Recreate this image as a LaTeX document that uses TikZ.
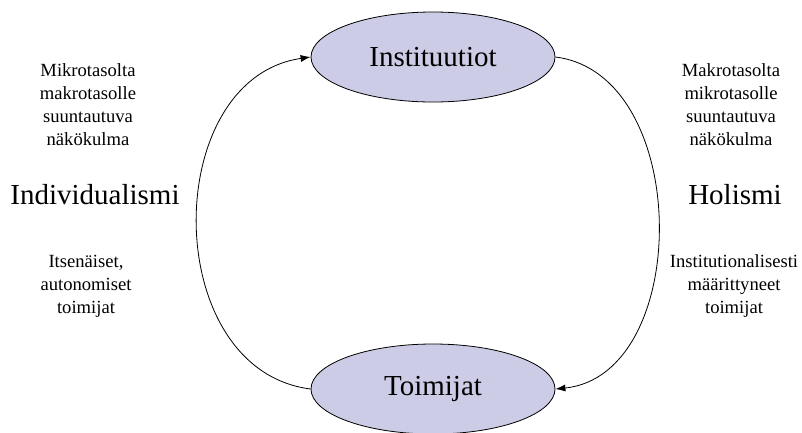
\documentclass[tikz,border=0pt]{standalone}
\usepackage{fontspec}
\setmainfont{Liberation Serif}
\usetikzlibrary{arrows.meta, shapes.geometric}

\definecolor{lilac}{RGB}{204,204,230}

\begin{document}
\begin{tikzpicture}
[x=1pt, y=-1pt,
   ->/.style={line width=0.8pt,arrows={-Latex[length=10pt,width=7pt]}},
   level/.style={shape=ellipse, draw, line width=0.8pt, fill=lilac, minimum width=244pt, minimum height=90pt, inner sep=0pt, font=\fontsize{29}{34}\selectfont},
   view/.style={align=center, font=\fontsize{18.6}{23}\selectfont},
   ism/.style={font=\fontsize{29}{34}\selectfont}]
\useasboundingbox (0,0) rectangle (802,432);
\node[level] (inst) at (433,57) {Instituutiot};
\node[level] (toim) at (433,389) {Toimijat};
\draw [->] (toim.west) .. controls +(-151,-19) and +(-151,22) .. (inst.west);
\draw [->] (inst.east) .. controls +(137,17) and +(137,-14) .. (toim.east);
\node[view] (mikro) at (88,105) {Mikrotasolta\\makrotasolle\\suuntautuva\\näkökulma};
\node[ism] (indiv) at (95,195) {Individualismi};
\node[view] (itsen) at (86,286) {Itsenäiset,\\autonomiset\\toimijat};
\node[view] (makro) at (731,105) {Makrotasolta\\mikrotasolle\\suuntautuva\\näkökulma};
\node[ism] (holis) at (735,195) {Holismi};
\node[view] (instm) at (734,286) {Institutionalisesti\\määrittyneet\\toimijat};
\end{tikzpicture}
\end{document}
